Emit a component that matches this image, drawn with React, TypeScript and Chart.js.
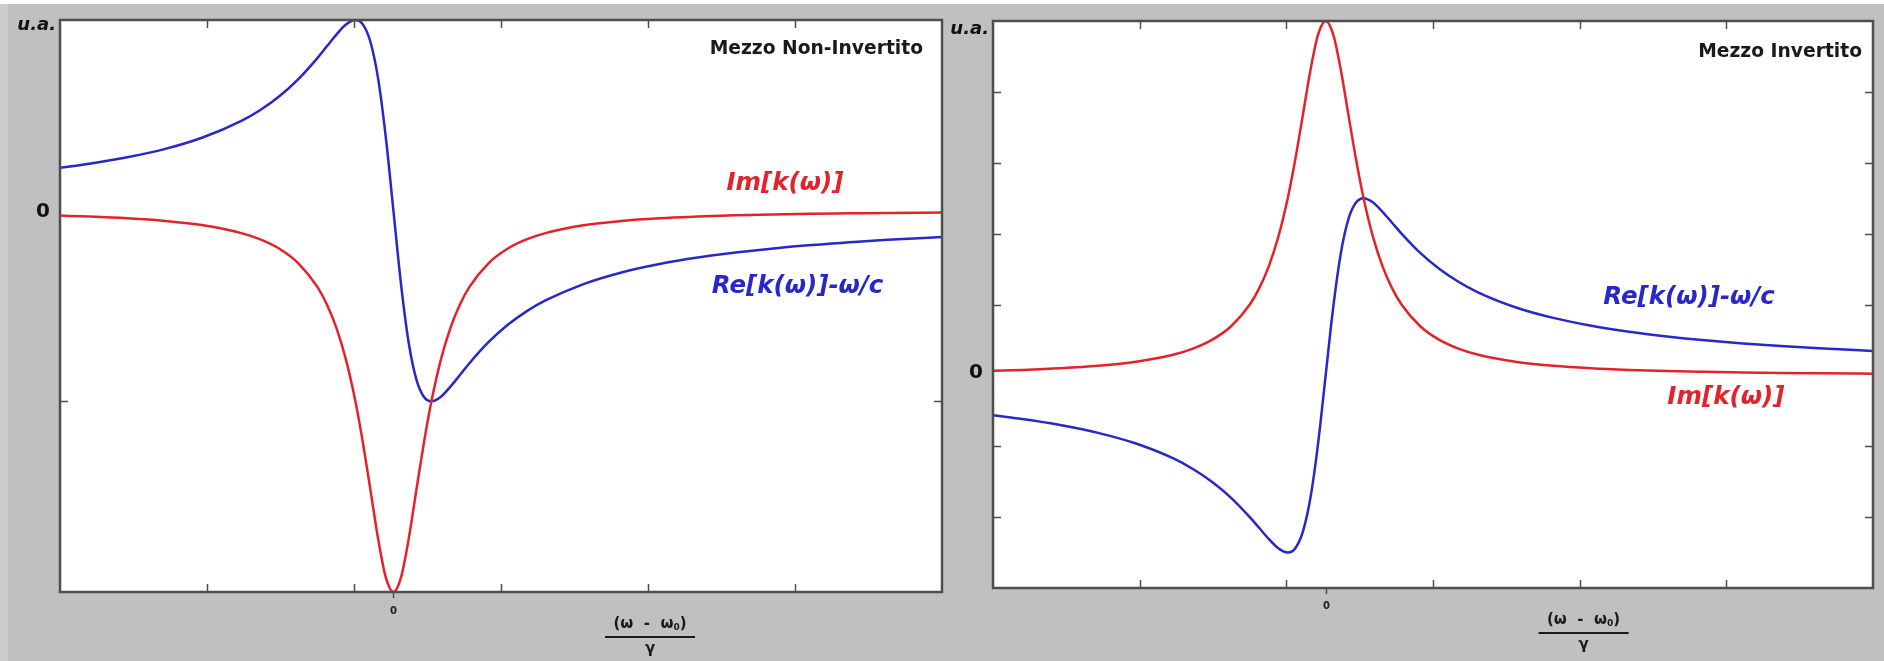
import React, { useEffect, useRef } from "react";
import { Chart, registerables } from "chart.js";

Chart.register(...registerables);

// ---------- data (x in units of the line half-width) ----------
const X_MIN = -8.77;
const X_MAX = 14.43;

const xValues = [
  -8.77, -8, -7, -6, -5, -4, -3.5, -3, -2.5, -2, -1.75, -1.5, -1.25, -1, -0.8, -0.6, -0.4, -0.2, 0,
  0.2, 0.4, 0.6, 0.8, 1, 1.25, 1.5, 1.75, 2, 2.5, 3, 3.5, 4, 5, 6, 7, 8, 9, 10, 11, 12, 13, 14.43,
];

// Left panel: "Mezzo Non-Invertito"
const leftIm = [
  -0.026, -0.031, -0.04, -0.054, -0.077, -0.118, -0.151, -0.2, -0.276, -0.4, -0.492, -0.615, -0.78, -1.0,
  -1.22, -1.47, -1.724, -1.923, -2.0, -1.923, -1.724, -1.47, -1.22, -1.0, -0.78, -0.615, -0.492, -0.4,
  -0.276, -0.2, -0.151, -0.118, -0.077, -0.054, -0.04, -0.031, -0.024, -0.02, -0.016, -0.014, -0.012, -0.01,
];
const leftRe = [
  0.225, 0.246, 0.28, 0.324, 0.385, 0.471, 0.528, 0.6, 0.69, 0.8, 0.862, 0.923, 0.976, 1.0, 0.976, 0.882,
  0.69, 0.385, 0.0, -0.385, -0.69, -0.882, -0.976, -1.0, -0.976, -0.923, -0.862, -0.8, -0.69, -0.6, -0.528,
  -0.471, -0.385, -0.324, -0.28, -0.246, -0.22, -0.198, -0.18, -0.166, -0.153, -0.138,
];

// Right panel: "Mezzo Invertito"
const rightIm = [
  0.064, 0.077, 0.1, 0.135, 0.192, 0.294, 0.377, 0.5, 0.69, 1.0, 1.231, 1.538, 1.951, 2.5, 3.049, 3.676,
  4.31, 4.808, 5.0, 4.808, 4.31, 3.676, 3.049, 2.5, 1.951, 1.538, 1.231, 1.0, 0.69, 0.5, 0.377, 0.294,
  0.192, 0.135, 0.1, 0.077, 0.061, 0.05, 0.041, 0.034, 0.029, 0.024,
];
const rightRe = [
  -0.563, -0.615, -0.7, -0.811, -0.962, -1.176, -1.321, -1.5, -1.724, -2.0, -2.154, -2.308, -2.439, -2.5,
  -2.439, -2.206, -1.724, -0.962, 0.0, 0.962, 1.724, 2.206, 2.439, 2.5, 2.439, 2.308, 2.154, 2.0, 1.724,
  1.5, 1.321, 1.176, 0.962, 0.811, 0.7, 0.615, 0.549, 0.495, 0.451, 0.414, 0.382, 0.345,
];

const xTickValues = [-4.9, -1.04, 2.83, 6.7, 10.56];
const leftYTicks = [-1];
const rightYTicks = [-2, -1, 1, 2, 3, 4];

const leftTitle = "Mezzo Non-Invertito";
const rightTitle = "Mezzo Invertito";
const imLabel = "Im[k(ω)]";
const reLabel = "Re[k(ω)]-ω/c";
const yUnitLabel = "u.a.";
const zeroLabel = "0";

const RED = "#e3232b";
const BLUE = "#2828c8";
const GREY_BG = "#c0c0c0";
const FRAME = "#4e4e4e";
const FONT = '"DejaVu Sans", "Liberation Sans", sans-serif';

// ---------- decoration plugin ----------
const decoPlugin = {
  id: "deco",
  beforeDraw(chart: any) {
    const { ctx, chartArea: a } = chart;
    ctx.save();
    ctx.fillStyle = "#ffffff";
    ctx.fillRect(a.left, a.top, a.right - a.left, a.bottom - a.top);
    ctx.restore();
  },
  afterDraw(chart: any, _args: any, o: any) {
    const { ctx, chartArea: a } = chart;
    const xs = chart.scales.x;
    const ys = chart.scales.y;
    ctx.save();

    // inner ticks
    ctx.strokeStyle = FRAME;
    ctx.lineWidth = 1.5;
    const TL = 8;
    ctx.beginPath();
    for (const v of o.xTicks) {
      const px = Math.round(xs.getPixelForValue(v)) + 0.5;
      ctx.moveTo(px, a.bottom);
      ctx.lineTo(px, a.bottom - TL);
      ctx.moveTo(px, a.top);
      ctx.lineTo(px, a.top + TL);
    }
    for (const v of o.yTicks) {
      const py = Math.round(ys.getPixelForValue(v)) + 0.5;
      ctx.moveTo(a.left, py);
      ctx.lineTo(a.left + TL, py);
      ctx.moveTo(a.right, py);
      ctx.lineTo(a.right - TL, py);
    }
    // outward tick at x = 0
    const x0 = Math.round(xs.getPixelForValue(0)) + 0.5;
    ctx.moveTo(x0, a.bottom);
    ctx.lineTo(x0, a.bottom + 6);
    ctx.stroke();

    // frame
    ctx.lineWidth = 2.5;
    ctx.strokeStyle = FRAME;
    ctx.strokeRect(a.left, a.top, a.right - a.left, a.bottom - a.top);

    // x "0" label
    ctx.fillStyle = "#222";
    ctx.font = `bold 10px ${FONT}`;
    ctx.textAlign = "center";
    ctx.textBaseline = "middle";
    ctx.fillText(zeroLabel, x0, a.bottom + o.x0LabelDy);

    // y "0" label
    ctx.font = `bold 20px ${FONT}`;
    ctx.textAlign = "right";
    ctx.fillStyle = "#111";
    ctx.fillText(zeroLabel, a.left - 10, ys.getPixelForValue(0) + o.y0LabelDy);

    // u.a.
    ctx.font = `italic bold 18px ${FONT}`;
    ctx.textAlign = "right";
    ctx.fillText(yUnitLabel, a.left - 4, a.top + o.uaDy);

    // title
    ctx.font = `bold 18.7px ${FONT}`;
    ctx.textAlign = "right";
    ctx.fillStyle = "#1a1a1a";
    ctx.fillText(o.title, a.right - o.titleDx, a.top + o.titleDy);

    // curve labels
    ctx.font = `italic bold 24.5px ${FONT}`;
    ctx.textAlign = "center";
    for (const l of o.labels) {
      ctx.fillStyle = l.color;
      ctx.fillText(l.text, xs.getPixelForValue(l.x), ys.getPixelForValue(l.y));
    }

    // x-axis title as a fraction: (ω - ω0) / γ
    const cx = xs.getPixelForValue(o.fracX);
    const by = a.bottom;
    ctx.fillStyle = "#1a1a1a";
    ctx.font = `bold 15px ${FONT}`;
    const p1 = "(ω  -  ω";
    const p2 = "0";
    const p3 = ")";
    const w1 = ctx.measureText(p1).width;
    ctx.font = `bold 9px ${FONT}`;
    const w2 = ctx.measureText(p2).width;
    ctx.font = `bold 15px ${FONT}`;
    const w3 = ctx.measureText(p3).width;
    const total = w1 + w2 + w3;
    const sx = cx - total / 2;
    ctx.textAlign = "left";
    ctx.textBaseline = "middle";
    ctx.fillText(p1, sx, by + 32);
    ctx.font = `bold 9px ${FONT}`;
    ctx.fillText(p2, sx + w1, by + 36);
    ctx.font = `bold 15px ${FONT}`;
    ctx.fillText(p3, sx + w1 + w2, by + 32);
    ctx.strokeStyle = "#1a1a1a";
    ctx.lineWidth = 2;
    ctx.beginPath();
    ctx.moveTo(cx - 45, by + 45);
    ctx.lineTo(cx + 45, by + 45);
    ctx.stroke();
    ctx.textAlign = "center";
    ctx.fillText("γ", cx, by + 57);

    ctx.restore();
  },
};

function makeConfig(p: any) {
  return {
    type: "line",
    data: {
      datasets: [
        {
          label: imLabel,
          data: xValues.map((x, i) => ({ x, y: p.im[i] })),
          borderColor: RED,
          borderWidth: 2.5,
          pointRadius: 0,
          cubicInterpolationMode: "monotone",
          fill: false,
        },
        {
          label: reLabel,
          data: xValues.map((x, i) => ({ x, y: p.re[i] })),
          borderColor: BLUE,
          borderWidth: 2.5,
          pointRadius: 0,
          cubicInterpolationMode: "monotone",
          fill: false,
        },
      ],
    },
    options: {
      animation: false,
      responsive: false,
      devicePixelRatio: 1,
      layout: { padding: p.padding },
      scales: {
        x: { type: "linear", min: X_MIN, max: X_MAX, display: false },
        y: { type: "linear", min: p.yMin, max: p.yMax, display: false },
      },
      plugins: {
        legend: { display: false },
        tooltip: { enabled: false },
        deco: p.deco,
      },
    },
    plugins: [decoPlugin],
  };
}

const leftPanel = {
  im: leftIm,
  re: leftRe,
  yMin: -2,
  yMax: 1,
  padding: { left: 60, right: 25, top: 20, bottom: 69 },
  deco: {
    xTicks: xTickValues,
    yTicks: leftYTicks,
    title: leftTitle,
    titleDx: 19,
    titleDy: 29,
    uaDy: 5,
    x0LabelDy: 19,
    y0LabelDy: 1,
    fracX: 6.75,
    labels: [
      { text: imLabel, x: 10.3, y: 0.14, color: RED },
      { text: reLabel, x: 10.63, y: -0.4, color: BLUE },
    ],
  },
};

const rightPanel = {
  im: rightIm,
  re: rightRe,
  yMin: -3,
  yMax: 5,
  padding: { left: 53, right: 11, top: 21, bottom: 73 },
  deco: {
    xTicks: xTickValues,
    yTicks: rightYTicks,
    title: rightTitle,
    titleDx: 11,
    titleDy: 31,
    uaDy: 8,
    x0LabelDy: 18,
    y0LabelDy: -3,
    fracX: 6.8,
    labels: [
      { text: reLabel, x: 9.58, y: 1.09, color: BLUE },
      { text: imLabel, x: 10.55, y: -0.31, color: RED },
    ],
  },
};

function Panel({ cfg, left, width }: { cfg: any; left: number; width: number }) {
  const ref = useRef<HTMLCanvasElement | null>(null);
  useEffect(() => {
    if (!ref.current) return;
    const chart = new Chart(ref.current, makeConfig(cfg) as any);
    return () => chart.destroy();
  }, [cfg]);
  return (
    <canvas
      ref={ref}
      width={width}
      height={661}
      style={{ position: "absolute", left, top: 0, width, height: 661 }}
    />
  );
}

export default function App() {
  return (
    <div
      style={{
        position: "fixed",
        left: 0,
        top: 0,
        width: 1884,
        height: 661,
        background: "#ffffff",
        overflow: "hidden",
      }}
    >
      <div style={{ position: "absolute", left: 0, top: 4, width: 1884, height: 657, background: GREY_BG }} />
      <div style={{ position: "absolute", left: 0, top: 4, width: 8, height: 657, background: "#cdcdcd" }} />
      <Panel cfg={leftPanel} left={0} width={967} />
      <Panel cfg={rightPanel} left={940} width={944} />
    </div>
  );
}
